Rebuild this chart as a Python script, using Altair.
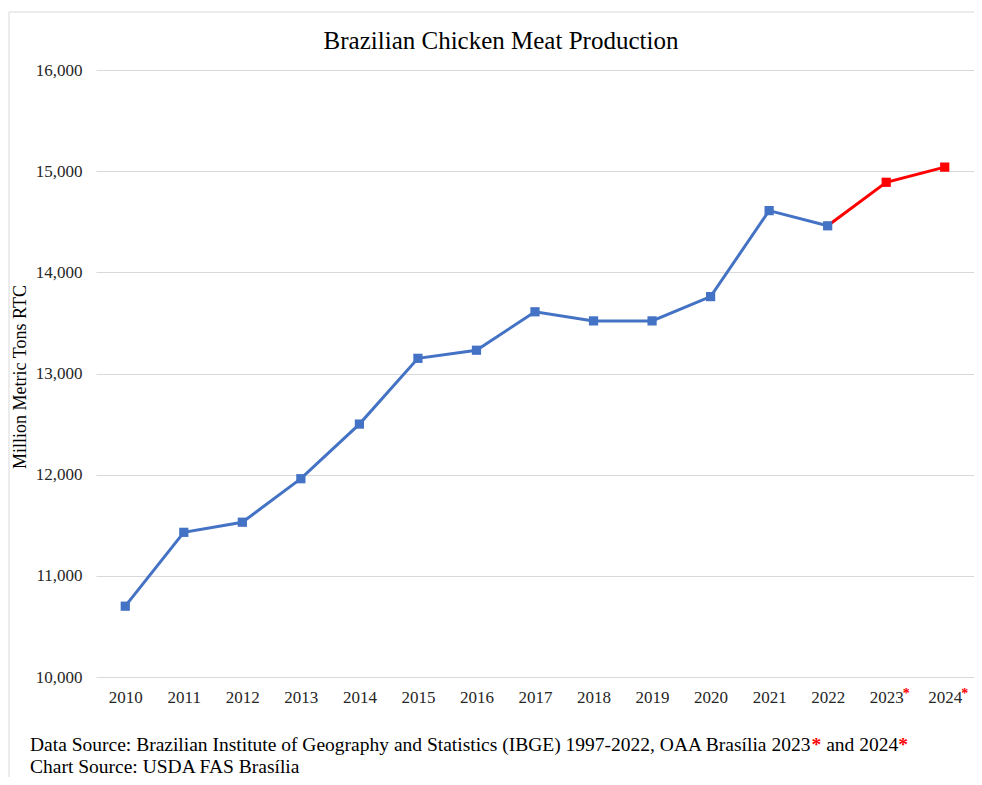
import altair as alt
import pandas as pd

FONT = "Liberation Serif"

# ---- data ----
years = ["2010", "2011", "2012", "2013", "2014", "2015", "2016", "2017",
         "2018", "2019", "2020", "2021", "2022", "2023", "2024"]
production = [10700, 11430, 11530, 11960, 12500, 13150, 13230, 13610,
              13520, 13520, 13760, 14610, 14460, 14890, 15040]
forecast_years = ["2023", "2024"]
y_ticks = [10000, 11000, 12000, 13000, 14000, 15000, 16000]

title_text = "Brazilian Chicken Meat Production"
y_title = "Million Metric Tons RTC"
foot1_parts = ["Data Source: Brazilian Institute of Geography and Statistics (IBGE) 1997-2022, OAA Brasília 2023",
               "*", " and 2024", "*"]
foot2 = "Chart Source: USDA FAS Brasília"

BLUE = "#4472C4"
RED = "#FF0000"
GRID = "#d9d9d9"
W, H = 878, 607

# Times / Liberation Serif advance widths (1/1000 em), used to place footnote pieces
ADV = {" ": 250, ",": 250, "-": 333, ".": 250, ":": 278, "(": 333, ")": 333, "*": 500,
       "A": 722, "B": 667, "C": 667, "D": 722, "E": 611, "F": 556, "G": 722, "I": 333,
       "O": 722, "R": 667, "S": 556, "T": 611, "U": 722,
       "a": 444, "b": 500, "c": 444, "d": 500, "e": 444, "f": 333, "g": 500, "h": 500,
       "i": 278, "l": 278, "n": 500, "o": 500, "p": 500, "r": 333, "s": 389, "t": 278,
       "u": 500, "y": 500, "z": 444, "í": 278}


def text_width(s, size):
    return sum(ADV.get(c, 500) for c in s) * size / 1000.0


hist = pd.DataFrame({"year": years[:13], "value": production[:13]})
fc = pd.DataFrame({"year": years[12:], "value": production[12:]})
fc_pts = fc[fc["year"].isin(forecast_years)]
one = pd.DataFrame({"k": [0]})

x_enc = alt.X(
    "year:O",
    sort=years,
    scale=alt.Scale(type="point", padding=0.5, domain=years),
    axis=alt.Axis(title=None, labelAngle=0, labelFont=FONT, labelFontSize=17,
                  labelColor="#262626", labelPadding=12, ticks=False,
                  domain=False, grid=False),
)
y_enc = alt.Y(
    "value:Q",
    scale=alt.Scale(domain=[10000, 16000], nice=False, zero=False),
    axis=alt.Axis(title=y_title, values=y_ticks, format=",.0f", grid=True,
                  gridColor=GRID, gridWidth=1, domain=False, ticks=False,
                  tickSize=0, labelPadding=14, labelFont=FONT,
                  labelFontSize=17, labelColor="#262626",
                  titleFont=FONT, titleFontSize=18, titleFontWeight="normal",
                  titleColor="#000000", titleX=-76, titleY=H / 2 + 3,
                  titleBaseline="middle", titleAngle=270),
)

red_line = alt.Chart(fc).mark_line(color=RED, strokeWidth=3).encode(x=x_enc, y=y_enc)
red_pts = alt.Chart(fc_pts).mark_square(color=RED, size=85, opacity=1).encode(x=x_enc, y=y_enc)
blue_line = alt.Chart(hist).mark_line(color=BLUE, strokeWidth=3).encode(x=x_enc, y=y_enc)
blue_pts = alt.Chart(hist).mark_square(color=BLUE, size=85, opacity=1).encode(x=x_enc, y=y_enc)

tick_star = alt.Chart(fc_pts).mark_text(
    text="*", color=RED, fontSize=14, fontWeight="bold", font=FONT,
    dx=20, align="center", baseline="alphabetic"
).encode(x=x_enc, y=alt.value(628))


def txt(s, color, x, y, size, align="left", weight="normal"):
    return alt.Chart(one).mark_text(
        text=s, color=color, fontSize=size, font=FONT, align=align,
        baseline="alphabetic", fontWeight=weight
    ).encode(x=alt.value(x), y=alt.value(y))


title = txt(title_text, "#000000", 405, -21, 25, align="center")

FS = 19.5
FX, FY1, FY2 = -66, 681, 703
foot_layers = []
cx = FX
for part in foot1_parts:
    is_star = part == "*"
    stripped = part.lstrip(" ")
    cx += text_width(part[:len(part) - len(stripped)], FS)
    foot_layers.append(txt(stripped, RED if is_star else "#000000", cx, FY1, FS,
                           weight="bold" if is_star else "normal"))
    cx += text_width(stripped, FS)
foot_layers.append(txt(foot2, "#000000", FX, FY2, FS))

border_left = alt.Chart(one).mark_rule(color=GRID, strokeWidth=1).encode(
    x=alt.value(-87), y=alt.value(-58), y2=alt.value(720))
border_top = alt.Chart(one).mark_rule(color=GRID, strokeWidth=1).encode(
    x=alt.value(-87), x2=alt.value(W + 10), y=alt.value(-58))

chart = alt.layer(
    border_left, border_top,
    red_line, red_pts, blue_line, blue_pts, tick_star, title, *foot_layers
).properties(
    width=W, height=H,
    padding={"left": 88, "top": 62, "right": 0, "bottom": 100},
    autosize=alt.AutoSizeParams(type="none"),
    background="#ffffff",
).configure_view(stroke="transparent")

chart.save("out.html", embed_options={"renderer": "svg", "actions": False})
